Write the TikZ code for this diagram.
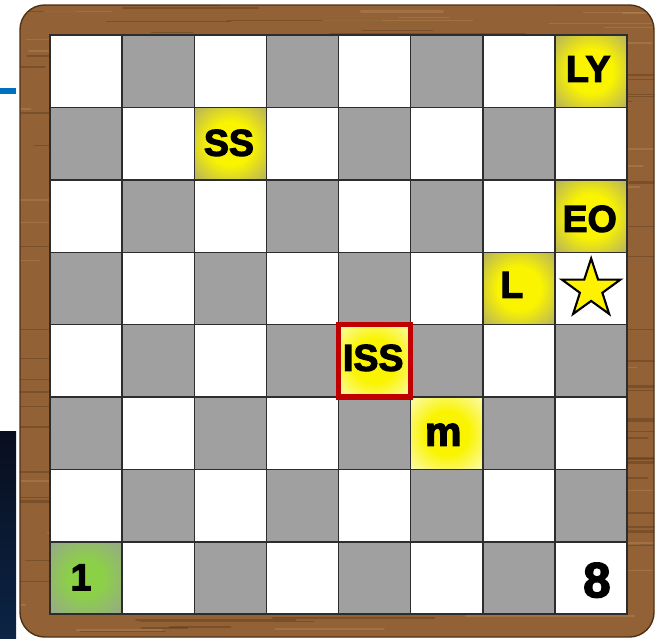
\documentclass[tikz,border=0pt]{standalone}
\usepackage{fontspec}
\setmainfont{Liberation Sans}
\newfontfamily\cellfont{Liberation Sans Bold}[FakeBold=3]
\usetikzlibrary{shapes.geometric}
\definecolor{woodbrown}{RGB}{146,98,54}
\definecolor{wooddark}{RGB}{80,48,22}
\definecolor{woodlight}{RGB}{190,146,96}
\definecolor{cellgray}{RGB}{160,160,160}
\definecolor{gridline}{RGB}{45,45,45}
\definecolor{glowyellow}{RGB}{250,244,0}
\definecolor{glowedge}{RGB}{172,168,108}
\definecolor{glowpale}{RGB}{252,252,220}
\definecolor{glowgreen}{RGB}{140,208,72}
\definecolor{greenedge}{RGB}{152,166,140}
\definecolor{issred}{RGB}{192,0,0}
\definecolor{slideblue}{RGB}{0,112,192}
\definecolor{slidedark}{RGB}{8,14,30}
\definecolor{slidenavy}{RGB}{12,36,70}

\pgfdeclareradialshading{glowgray}{\pgfpoint{0bp}{0bp}}{%
  color(0bp)=(glowyellow); color(15bp)=(glowyellow);
  color(38bp)=(glowedge); color(50bp)=(glowedge)}
\pgfdeclareradialshading{glowwhite}{\pgfpoint{0bp}{0bp}}{%
  color(0bp)=(glowyellow); color(15bp)=(glowyellow);
  color(40bp)=(glowpale); color(50bp)=(white)}
\pgfdeclareradialshading{glowgreen}{\pgfpoint{0bp}{0bp}}{%
  color(0bp)=(glowgreen); color(12bp)=(glowgreen);
  color(36bp)=(greenedge); color(50bp)=(greenedge)}

\begin{document}
\begin{tikzpicture}[
  x=0.03cm, y=-0.03cm,
  frame/.style={draw=wooddark, line width=1.2pt, rounded corners=21pt},
  grain/.style={line cap=round, opacity=0.35},
  lbl/.style={font=\cellfont\fontsize{32}{32}\selectfont,
              text=black, inner sep=0pt},
  goldstar/.style={star, star points=5, star point ratio=2.6,
              fill=yellow, draw=black, line width=1.8pt,
              minimum size=1.84cm, inner sep=0pt}
]
\useasboundingbox (0,0) rectangle (663,639);

%% slide background behind the board
\fill[slideblue] (0,88) rectangle (16,94);
\shade[top color=slidedark, bottom color=slidenavy] (0,431) rectangle (16,639);

%% wooden frame
\fill[woodbrown, rounded corners=21pt] (20,5) rectangle (654,637);
\begin{scope}
  \clip[rounded corners=21pt] (20,5) rectangle (654,637);
  \pgfmathsetseed{11}
  \foreach \k in {1,...,160}{
    \pgfmathsetmacro{\gy}{5+632*rnd}
    \pgfmathsetmacro{\gx}{-20+660*rnd}
    \pgfmathsetmacro{\gl}{40+170*rnd}
    \pgfmathsetmacro{\gw}{0.5+1.8*rnd}
    \draw[grain, wooddark, line width=\gw pt] (\gx,\gy) -- ++(\gl,0);
  }
  \foreach \k in {1,...,90}{
    \pgfmathsetmacro{\gy}{5+632*rnd}
    \pgfmathsetmacro{\gx}{-20+660*rnd}
    \pgfmathsetmacro{\gl}{30+140*rnd}
    \pgfmathsetmacro{\gw}{0.5+1.5*rnd}
    \draw[grain, woodlight, line width=\gw pt] (\gx,\gy) -- ++(\gl,0);
  }
\end{scope}
\draw[frame] (20,5) rectangle (654,637);

%% the 8x8 board
\begin{scope}[shift={(50,35)}, x=2.1645cm, y=-2.172cm]
  \fill[white] (0,0) rectangle (8,8);
  \foreach \i in {0,...,7}
    \foreach \j in {0,...,7}{
      \pgfmathtruncatemacro{\odd}{mod(\i+\j,2)}
      \ifnum\odd=1 \fill[cellgray] (\j,\i) rectangle ++(1,1); \fi
    }

  %% highlighted squares
  \shade[shading=glowgray]  (7,0) rectangle ++(1,1);
  \shade[shading=glowgray]  (2,1) rectangle ++(1,1);
  \shade[shading=glowgray]  (7,2) rectangle ++(1,1);
  \shade[shading=glowgray]  (6,3) rectangle ++(1,1);
  \shade[shading=glowwhite] (4,4) rectangle ++(1,1);
  \shade[shading=glowwhite] (5,5) rectangle ++(1,1);
  \shade[shading=glowgreen] (0,7) rectangle ++(1,1);

  \foreach \k in {0,...,8}{
    \draw[gridline, line width=1.2pt] (\k,0) -- (\k,8);
    \draw[gridline, line width=1.2pt] (0,\k) -- (8,\k);
  }
  \draw[gridline, line width=1.6pt] (0,0) rectangle (8,8);

  \draw[issred, line width=4.4pt] (4,4) rectangle (5,5);

  \node[lbl]      (ly)    at (7.46,0.47) {LY};
  \node[lbl]      (ss)    at (2.48,1.49) {SS};
  \node[lbl]      (eo)    at (7.48,2.54) {EO};
  \node[lbl]      (l)     at (6.40,3.45) {L};
  \node[goldstar] (goal)  at (7.50,3.51) {};
  \node[lbl]      (iss)   at (4.48,4.46) {ISS};
  \node[lbl, font=\cellfont\fontsize{35}{35}\selectfont]
                  (m)     at (5.45,5.52) {m};
  \node[lbl]      (one)   at (0.43,7.49) {1};
  \node[lbl, font=\cellfont\fontsize{42}{42}\selectfont]
                  (eight) at (7.58,7.53) {8};
\end{scope}

\end{tikzpicture}
\end{document}
